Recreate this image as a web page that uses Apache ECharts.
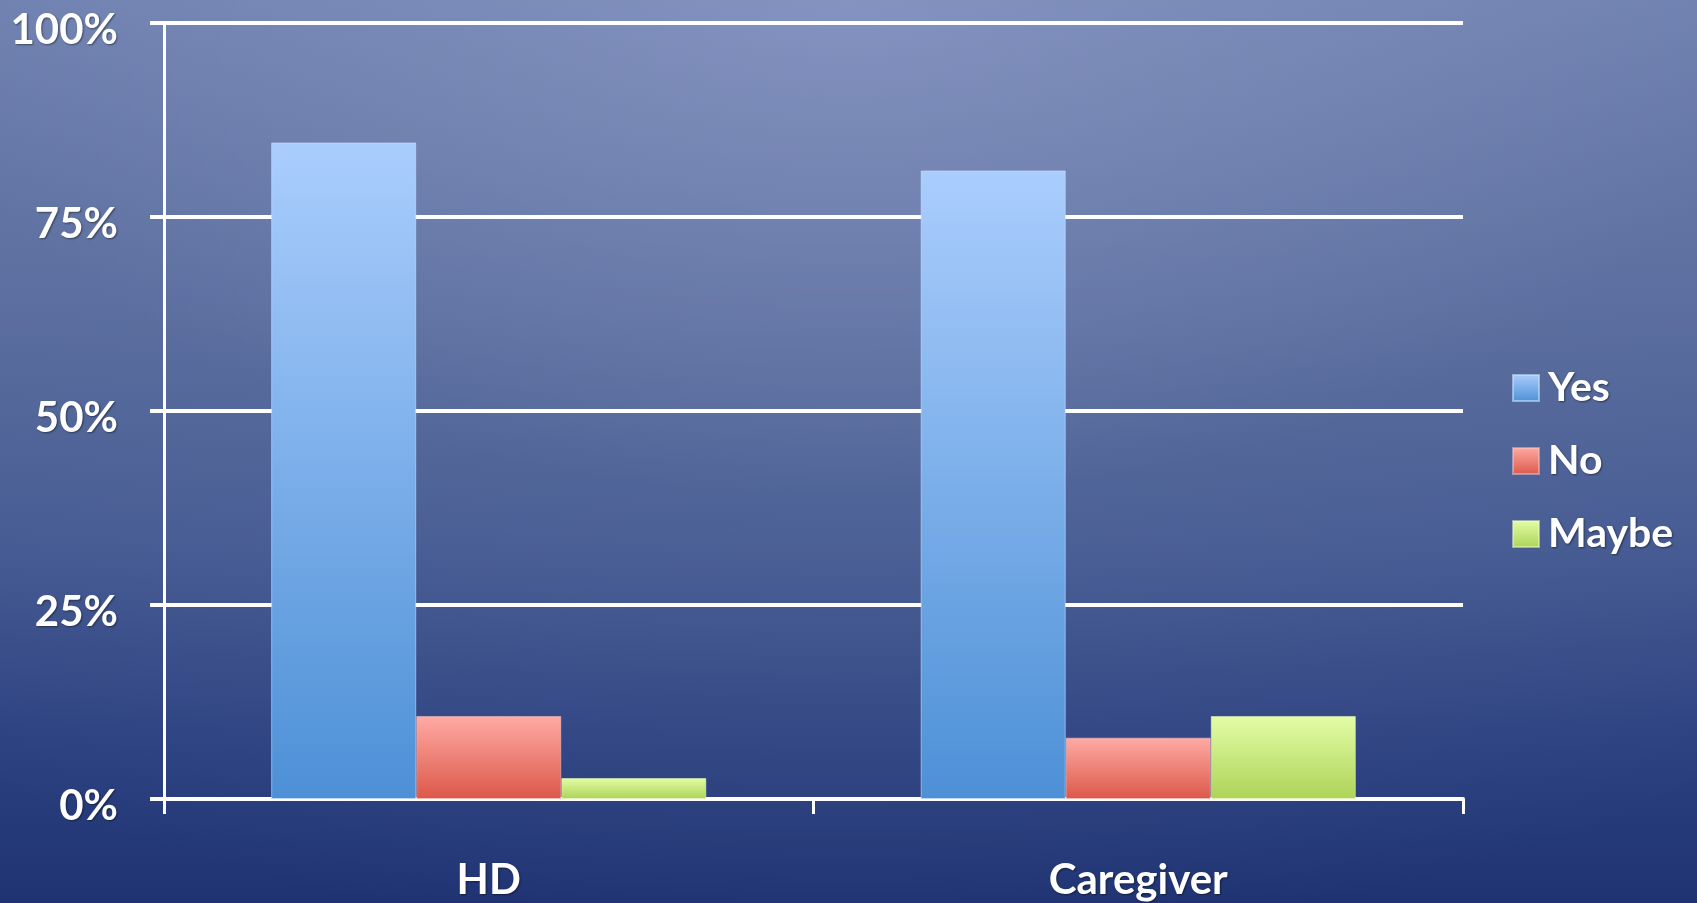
<!DOCTYPE html>
<html>
<head>
<meta charset="utf-8">
<script src="https://cdn.jsdelivr.net/npm/echarts@6/dist/echarts.min.js"></script>
<style>
  html, body { margin: 0; padding: 0; }
  #chart {
    width: 1697px; height: 903px;
    background:
      radial-gradient(ellipse 55% 55% at 50% 0%, rgba(150,162,206,0.55), rgba(150,162,206,0) 100%),
      radial-gradient(ellipse 70% 60% at 50% 45%, rgba(95,115,160,0.35), rgba(95,115,160,0) 100%),
      linear-gradient(to bottom, #6f81b0 0%, #5a6d9e 35%, #455a92 60%, #2e4382 80%, #1f3373 100%);
  }
</style>
</head>
<body>
<div id="chart"></div>
<script>
// data (percent)
const categories = ['HD', 'Caregiver']
const yesData = [84.6, 81.0]
const noData = [10.7, 7.9]
const maybeData = [2.7, 10.7]
const yTicks = [0, 25, 50, 75, 100]

const font = 'Lato'
const white = '#ffffff'
const shadow = {
  textShadowColor: 'rgba(0,0,0,0.45)',
  textShadowBlur: 2,
  textShadowOffsetX: 1,
  textShadowOffsetY: 1
}

function grad(top, bottom) {
  return new echarts.graphic.LinearGradient(0, 0, 0, 1, [
    { offset: 0, color: top },
    { offset: 1, color: bottom }
  ])
}

const myChart = echarts.init(document.getElementById('chart'))
const option = {
  backgroundColor: 'transparent',
  animation: false,
  grid: {
    left: 164,
    right: 234,
    top: 23,
    bottom: 104,
    outerBoundsMode: 'none',
    containLabel: false
  },
  legend: {
    orient: 'vertical',
    left: 1507,
    top: 362,
    itemWidth: 26,
    itemHeight: 26,
    itemGap: 31,
    icon: 'rect',
    textStyle: Object.assign({
      color: white,
      fontFamily: font,
      fontWeight: 'bold',
      fontSize: 41,
      lineHeight: 42,
      padding: [0, 0, 0, 4]
    }, shadow),
    data: ['Yes', 'No', 'Maybe']
  },
  xAxis: {
    type: 'category',
    data: categories,
    axisLine: { lineStyle: { color: white, width: 4 } },
    axisTick: { show: true, length: 15, lineStyle: { color: white, width: 3 } },
    axisLabel: Object.assign({
      color: white,
      fontFamily: font,
      fontWeight: 'bold',
      fontSize: 42,
      margin: 60
    }, shadow)
  },
  yAxis: {
    type: 'value',
    min: yTicks[0],
    max: yTicks[yTicks.length - 1],
    interval: 25,
    axisLine: { show: true, lineStyle: { color: white, width: 3 } },
    axisTick: { show: true, length: 14, lineStyle: { color: white, width: 4 } },
    splitLine: { show: true, lineStyle: { color: white, width: 4 } },
    axisLabel: {
      margin: 46,
      formatter: '{v|{value}%}',
      rich: {
        v: Object.assign({
          color: white,
          fontFamily: font,
          fontWeight: 'bold',
          fontSize: 42,
          lineHeight: 42,
          padding: [15, 0, 0, 0]
        }, shadow)
      }
    }
  },
  series: [
    {
      name: 'Yes',
      type: 'bar',
      data: yesData,
      barGap: '0%',
      barCategoryGap: '33%',
      itemStyle: {
        color: grad('#aacdfd', '#4d90d6'),
        borderColor: 'rgba(200,225,255,0.6)',
        borderWidth: 1
      }
    },
    {
      name: 'No',
      type: 'bar',
      data: noData,
      barGap: '0%',
      barCategoryGap: '33%',
      itemStyle: {
        color: grad('#ffaba4', '#dc5849'),
        borderColor: 'rgba(255,200,200,0.5)',
        borderWidth: 1
      }
    },
    {
      name: 'Maybe',
      type: 'bar',
      data: maybeData,
      barGap: '0%',
      barCategoryGap: '33%',
      itemStyle: {
        color: grad('#e3fda6', '#add358'),
        borderColor: 'rgba(240,255,200,0.5)',
        borderWidth: 1
      }
    }
  ]
}
myChart.setOption(option)
window.addEventListener('resize', function () {
  myChart.resize()
})
</script>
</body>
</html>
